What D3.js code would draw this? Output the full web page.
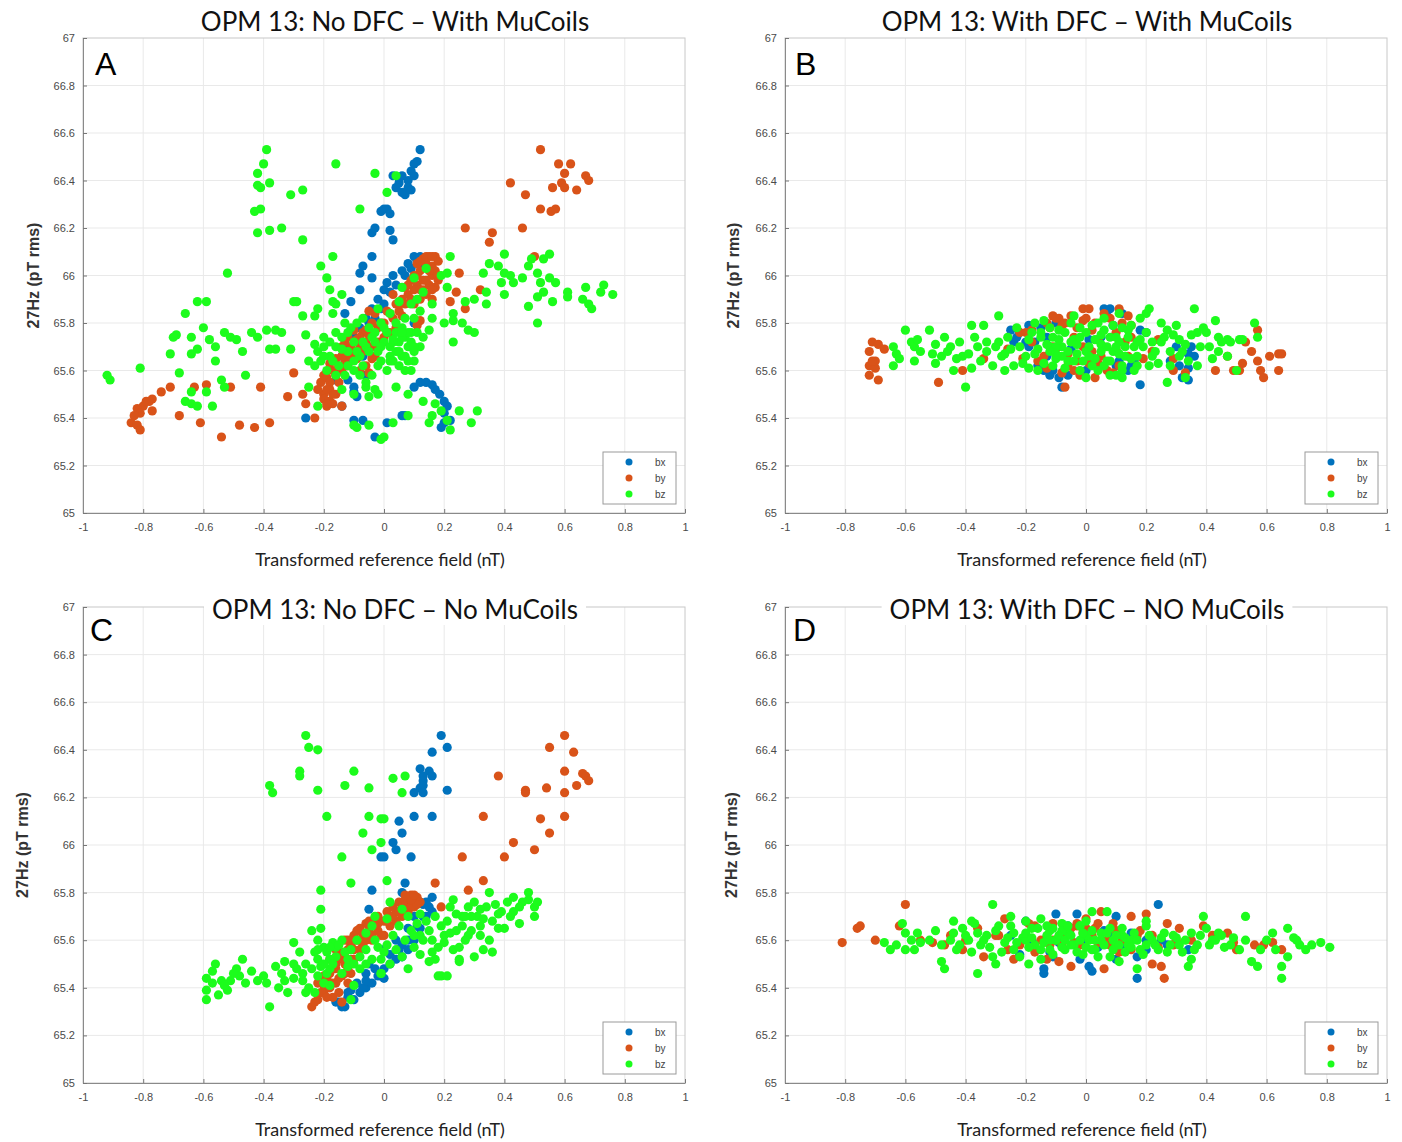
<!DOCTYPE html>
<html>
<head>
<meta charset="utf-8">
<script src="https://cdn.jsdelivr.net/npm/d3@7"></script>
<style>
  body { margin: 0; background: #fff; }
  svg { display: block; }
  .tick text { font-family: "Liberation Sans", Arial, sans-serif; font-size: 11px; fill: #4a4a4a; }
  .tick line { stroke: #777; }
</style>
</head>
<body>
<svg id="chart" width="1402" height="1142"></svg>
<script>
// tick labels, names, texts
var xTicks = [-1, -0.8, -0.6, -0.4, -0.2, 0, 0.2, 0.4, 0.6, 0.8, 1];
var yTicks = [65, 65.2, 65.4, 65.6, 65.8, 66, 66.2, 66.4, 66.6, 66.8, 67];
var seriesNames = ["bx", "by", "bz"];
var panelLetters = ["A", "B", "C", "D"];
var panelTitles = [
  "OPM 13: No DFC \u2013 With MuCoils",
  "OPM 13: With DFC \u2013 With MuCoils",
  "OPM 13: No DFC \u2013 No MuCoils",
  "OPM 13: With DFC \u2013 NO MuCoils"
];
var xLabel = "Transformed reference field (nT)";
var yLabel = "27Hz (pT rms)";

// ---- panel A : no DFC, with MuCoils ----
var aBx = [[0.12,66.53],[0.11,66.48],[0.10,66.47],[0.09,66.44],[0.10,66.42],[0.08,66.40],[0.06,66.42],[0.05,66.39],[0.04,66.37],[0.06,66.35],[0.07,66.34],[0.08,66.37],[0.09,66.36],[0.03,66.42],[0.05,66.41],
  [0.01,66.28],[0.00,66.28],[0.02,66.26],[-0.01,66.27],[-0.04,66.18],[-0.03,66.20],[0.03,66.15],[0.02,66.19],
  [-0.04,66.08],[-0.07,66.04],[-0.08,66.01],[-0.04,65.99],[-0.08,65.94],[-0.11,65.89],[-0.13,65.84],
  [0.10,66.08],[0.08,66.05],[0.06,66.02],[0.03,66.00],[0.01,65.97],[0.00,65.94],[0.00,65.88],[0.11,66.06],[0.12,66.08],[0.13,66.05],
  [-0.02,65.90],[-0.04,65.86],[-0.06,65.82],[-0.08,65.78],[-0.10,65.74],[-0.12,65.70],[-0.14,65.66],[-0.10,65.65],[-0.07,65.66],[0.10,65.80],[-0.05,65.80],
  [0.02,65.93],[0.04,65.96],[0.07,66.00],[0.09,66.03],[-0.01,65.86],[-0.03,65.82],[-0.12,65.63],[-0.15,65.60],[-0.16,65.56],
  [0.12,65.55],[0.14,65.55],[0.16,65.54],[0.17,65.52],[0.185,65.50],[0.20,65.47],[0.21,65.45],[0.20,65.42],[0.20,65.38],[0.19,65.36],[0.22,65.39],[0.10,65.53],[0.07,65.41],[0.06,65.41],[0.01,65.38],
  [-0.07,65.39],[-0.10,65.39],[-0.03,65.32],[-0.26,65.40],[-0.14,65.45],[-0.10,65.51],[-0.09,65.49],[-0.10,65.53],[-0.12,65.56],[-0.06,65.58]];
var aBy = [[-0.19,65.45],[-0.18,65.47],[-0.17,65.46],[-0.20,65.50],[-0.18,65.52],[-0.16,65.50],[-0.21,65.55],[-0.19,65.57],[-0.15,65.55],[-0.17,65.60],[-0.14,65.60],[-0.13,65.63],[-0.16,65.65],[-0.12,65.66],[-0.14,65.70],[-0.11,65.70],[-0.10,65.68],[-0.12,65.74],[-0.09,65.73],[-0.08,65.70],[-0.06,65.72],[-0.10,65.77],[-0.07,65.76],[-0.05,65.75],[-0.04,65.70],[-0.02,65.72],[-0.06,65.62],[-0.05,65.59],[-0.08,65.60],[-0.03,65.66],
  [0.00,65.74],[0.02,65.76],[-0.01,65.80],[0.03,65.82],[0.01,65.85],[-0.03,65.84],[-0.05,65.85],[0.04,65.88],[0.05,65.85],[0.06,65.90],[0.03,65.92],[0.07,65.95],[0.08,65.92],[0.09,65.98],[0.10,66.00],[0.11,65.96],[0.12,66.02],[0.13,65.98],[0.14,66.05],[0.15,66.08],[0.16,66.04],[0.17,66.08],[0.16,66.00],[0.15,65.96],[0.17,65.95],[0.14,65.92],[0.16,65.90],[0.12,65.90],[0.17,66.02],[0.18,66.06],[0.13,66.07],[0.11,66.05],[0.09,65.90],[0.10,65.94],[0.14,65.98],[0.12,65.94],
  [-0.20,65.48],[-0.22,65.52],[-0.18,65.55],[-0.20,65.58],[-0.16,65.58],[-0.15,65.62],[-0.18,65.63],[-0.14,65.66],[-0.12,65.62],[-0.11,65.66],[-0.13,65.72],[-0.08,65.74],[-0.06,65.77],[-0.04,65.80],[-0.02,65.78],[0.00,65.80],[0.02,65.84],[0.05,65.88],[0.07,65.88],[0.08,65.96],[0.11,66.00],[0.12,66.06],[0.15,66.02],[0.16,65.94],[0.18,66.00],[0.13,65.94],[0.10,65.88],[0.06,65.83],[0.04,65.78],[0.01,65.76],[-0.02,65.70],[-0.04,65.65],[-0.07,65.68],[-0.09,65.65],[-0.17,65.50],[-0.19,65.52],[0.18,65.98],[0.14,66.08],[0.16,66.08],
  [-0.19,65.46],[-0.14,65.45],[-0.23,65.40],[-0.30,65.59],[-0.32,65.49],[-0.27,65.50],[-0.26,65.46],[-0.41,65.53],[-0.38,65.38],[-0.43,65.36],[-0.48,65.37],[-0.54,65.32],[-0.61,65.38],[-0.68,65.41],[-0.59,65.54],[-0.63,65.53],[-0.71,65.53],[-0.74,65.51],[-0.51,65.53],
  [-0.77,65.48],[-0.78,65.47],[-0.80,65.45],[-0.82,65.44],[-0.81,65.42],[-0.77,65.43],[-0.84,65.38],[-0.82,65.37],[-0.81,65.35],[-0.79,65.47],[-0.83,65.41],
  [0.52,66.53],[0.58,66.47],[0.62,66.47],[0.60,66.43],[0.67,66.42],[0.68,66.40],[0.59,66.39],[0.60,66.37],[0.64,66.36],[0.56,66.37],[0.42,66.39],[0.47,66.34],[0.52,66.28],[0.555,66.27],[0.57,66.28],
  [0.27,66.20],[0.36,66.18],[0.35,66.14],[0.46,66.20],[0.50,66.08],[0.25,66.01],[0.24,65.93],[0.32,65.94],[0.22,65.89],[0.27,65.86],[0.12,65.81],[0.11,65.79]];
var aBz = [[-0.39,66.53],[-0.40,66.47],[-0.42,66.43],[-0.42,66.38],[-0.41,66.37],[-0.38,66.39],[-0.31,66.34],[-0.27,66.36],[-0.16,66.47],[-0.03,66.43],[-0.43,66.27],[-0.41,66.28],[-0.42,66.18],[-0.38,66.19],[-0.34,66.20],[-0.27,66.15],[-0.08,66.28],[-0.52,66.01],
  [-0.17,66.08],[-0.21,66.04],[-0.19,65.99],[-0.18,65.94],[-0.14,65.92],[-0.17,65.89],[-0.16,65.88],[-0.17,65.84],[-0.22,65.86],[-0.23,65.83],[-0.27,65.83],[-0.30,65.89],[-0.29,65.89],
  [-0.62,65.89],[-0.59,65.89],[-0.66,65.84],[-0.69,65.75],[-0.70,65.74],[-0.64,65.74],[-0.60,65.78],[-0.58,65.73],[-0.62,65.69],[-0.64,65.67],[-0.56,65.70],[-0.56,65.64],[-0.71,65.67],[-0.53,65.76],[-0.51,65.74],[-0.49,65.73],[-0.47,65.68],[-0.44,65.76],[-0.42,65.74],[-0.39,65.77],[-0.36,65.77],[-0.34,65.76],[-0.38,65.69],[-0.36,65.69],[-0.31,65.69],[-0.26,65.75],[-0.23,65.71],[-0.25,65.64],
  [-0.81,65.61],[-0.92,65.58],[-0.91,65.56],[-0.68,65.59],[-0.46,65.58],[-0.54,65.56],[-0.53,65.53],[-0.64,65.51],[-0.59,65.51],[-0.66,65.47],[-0.64,65.46],[-0.62,65.45],[-0.57,65.45],[-0.25,65.53],[-0.22,65.45],
  [-0.10,65.37],[-0.09,65.36],[-0.05,65.37],[-0.01,65.31],[-0.06,65.53],[-0.05,65.49],[-0.02,65.50],
  [-0.18,65.72],[-0.16,65.70],[-0.14,65.74],[-0.12,65.68],[-0.10,65.72],[-0.08,65.66],[-0.06,65.70],[-0.04,65.74],[-0.02,65.68],[-0.17,65.64],[-0.15,65.62],[-0.13,65.58],[-0.19,65.60],[-0.21,65.64],[-0.22,65.68],[-0.20,65.74],[-0.11,65.78],[-0.09,65.80],[-0.07,65.82],[-0.05,65.78],[-0.03,65.76],[-0.01,65.80],[0.00,65.72],[0.02,65.70],[0.04,65.68],[0.06,65.66],[0.05,65.72],[0.07,65.74],[0.08,65.70],[0.03,65.64],[0.01,65.60],[-0.02,65.62],[-0.04,65.58],[-0.06,65.55],[-0.03,65.52],[-0.12,65.62],[-0.10,65.60],[-0.08,65.58],[-0.14,65.52],[-0.10,65.50],[0.09,65.76],[0.06,65.78],[0.04,65.80],[0.10,65.82],[0.12,65.85],[0.09,65.88],[0.05,65.62],[0.07,65.60],[0.10,65.68],
  [-0.20,65.70],[-0.18,65.66],[-0.16,65.76],[-0.14,65.69],[-0.12,65.76],[-0.10,65.64],[-0.09,65.68],[-0.07,65.72],[-0.05,65.68],[-0.03,65.72],[-0.01,65.70],[0.01,65.76],[0.03,65.72],[0.05,65.68],[0.06,65.74],[0.08,65.76],[0.09,65.72],[0.11,65.76],[0.07,65.66],[0.02,65.66],[-0.01,65.64],[-0.07,65.62],[-0.16,65.58],[-0.20,65.66],[-0.23,65.62],[0.00,65.78],[-0.13,65.80],[0.12,65.70],[0.10,65.64],[0.04,65.76],[0.07,65.82],[0.02,65.84],[-0.02,65.86],[0.11,65.90],
  [0.04,66.42],[0.01,66.35],[0.22,66.08],[0.35,66.05],[0.33,66.01],[0.40,66.09],[0.38,66.04],[0.40,66.01],[0.39,65.97],[0.40,65.92],[0.42,66.00],[0.43,65.97],[0.46,65.99],[0.48,66.04],[0.49,66.07],[0.53,66.07],[0.55,66.09],[0.51,66.01],[0.52,65.97],[0.55,65.99],[0.57,65.97],[0.53,65.93],[0.56,65.89],[0.51,65.91],[0.48,65.87],[0.51,65.80],
  [0.61,65.93],[0.61,65.91],[0.66,65.90],[0.67,65.95],[0.69,65.86],[0.68,65.88],[0.72,65.93],[0.73,65.96],[0.76,65.92],[0.34,65.93],[0.34,65.88],[0.30,65.90],[0.27,65.89],[0.21,66.01],[0.21,65.95],[0.19,66.00],[0.14,66.03],[0.10,65.99],
  [0.23,65.84],[0.23,65.81],[0.26,65.80],[0.28,65.77],[0.30,65.76],[0.23,65.72],[0.20,65.80],[0.16,65.82],[0.15,65.77],[0.13,65.74],[0.10,65.70],[0.08,65.64],[0.09,65.60],[0.03,65.73],[0.06,65.76],[0.02,65.64],[0.04,65.53],[0.08,65.50],[0.13,65.47],[0.17,65.46],[0.19,65.43],[0.16,65.41],[0.15,65.38],[0.21,65.39],[0.22,65.35],[0.25,65.43],[0.31,65.43],[0.29,65.38],[0.08,65.41],[0.03,65.38],[0.00,65.32],[0.05,65.89],[0.06,65.95],[0.13,65.93],[0.16,65.88]];

// ---- panel B : with DFC, with MuCoils ----
var bBx = [[-0.25,65.77],[-0.23,65.74],[-0.24,65.72],[-0.19,65.70],[-0.17,65.72],[-0.13,65.74],[-0.13,65.66],[-0.11,65.60],[-0.09,65.57],[-0.08,65.53],[0.06,65.86],[0.08,65.86],[0.09,65.79],[0.05,65.74],[0.18,65.77],[0.18,65.54],[0.15,65.62],[0.31,65.62],[0.34,65.61],[0.34,65.56],[0.32,65.57],[0.34,65.67],[0.35,65.70],[0.01,65.73],[0.11,65.64],[-0.05,65.69],[-0.19,65.79],
  [-0.22,65.76],[-0.20,65.72],[-0.16,65.62],[-0.14,65.60],[-0.12,65.58],[-0.06,65.58],[0.00,65.60],[0.04,65.62],[0.10,65.62],[0.14,65.60],[0.16,65.64],[0.12,65.84],[0.07,65.83],[0.20,65.76],[0.28,65.64],[0.30,65.70],[0.36,65.66],[-0.10,65.80],[-0.15,65.78]];
var bBy = [[-0.71,65.72],[-0.69,65.71],[-0.72,65.68],[-0.67,65.69],[-0.72,65.62],[-0.70,65.61],[-0.72,65.58],[-0.69,65.56],[-0.70,65.64],[-0.71,65.64],[-0.49,65.55],[-0.41,65.60],[-0.34,65.65],[-0.26,65.69],[-0.22,65.76],[-0.21,65.65],[-0.18,65.77],[-0.13,65.80],[-0.11,65.83],[-0.09,65.82],[-0.07,65.80],[-0.01,65.86],[0.01,65.86],[-0.01,65.81],[0.03,65.80],[0.06,65.84],[0.11,65.86],[0.14,65.83],[0.15,65.79],[0.15,65.74],[0.10,65.69],[0.05,65.66],[0.01,65.63],[-0.03,65.64],[-0.06,65.67],[-0.11,65.70],[-0.14,65.66],[-0.13,65.61],[-0.08,65.59],[-0.04,65.60],[0.03,65.57],[0.09,65.59],[-0.07,65.53],[-0.01,65.70],[0.04,65.73],[-0.04,65.74],
  [-0.12,65.78],[-0.10,65.82],[-0.08,65.79],[-0.05,65.83],[-0.03,65.78],[0.00,65.82],[0.02,65.77],[0.08,65.82],[0.12,65.80],[0.13,65.72],[0.11,65.62],[0.07,65.60],[-0.02,65.58],[-0.06,65.62],[-0.16,65.64],[-0.18,65.72],[-0.20,65.76],[0.04,65.63],[0.14,65.66],[-0.09,65.70],[0.02,65.68],[0.10,65.76],
  [0.24,65.73],[0.29,65.60],[0.33,65.59],[0.43,65.60],[0.47,65.66],[0.49,65.60],[0.52,65.63],[0.53,65.72],[0.55,65.68],[0.57,65.77],[0.57,65.64],[0.58,65.60],[0.59,65.57],[0.61,65.66],[0.64,65.67],[0.65,65.67],[0.64,65.60],[0.51,65.60],[0.29,65.65],[0.22,65.68],[0.19,65.65]];
var bBz = [[-0.64,65.70],[-0.63,65.67],[-0.64,65.62],[-0.60,65.77],[-0.58,65.72],[-0.57,65.70],[-0.56,65.73],[-0.57,65.64],[-0.52,65.77],[-0.51,65.67],[-0.50,65.71],[-0.48,65.66],[-0.47,65.74],[-0.45,65.70],[-0.44,65.60],[-0.42,65.72],[-0.41,65.66],[-0.38,65.79],[-0.37,65.74],[-0.36,65.70],[-0.38,65.61],[-0.35,65.64],[-0.34,65.79],[-0.33,65.72],[-0.31,65.62],[-0.29,65.83],[-0.29,65.72],[-0.27,65.67],[-0.40,65.53],[-0.24,65.62],[-0.21,65.63],
  [-0.19,65.73],[-0.17,65.67],[-0.16,65.60],[-0.15,65.76],[-0.14,65.81],[-0.12,65.70],[-0.11,65.74],[-0.10,65.65],[-0.09,65.77],[-0.08,65.70],[-0.06,65.64],[-0.05,65.80],[-0.04,65.73],[-0.03,65.67],[-0.02,65.60],[0.00,65.76],[0.01,65.70],[0.03,65.65],[0.04,65.80],[0.05,65.71],[0.06,65.62],[0.08,65.74],[0.09,65.68],[0.10,65.58],[0.11,65.84],[0.11,65.72],[0.13,65.66],[0.14,65.77],[0.16,65.70],[0.17,65.62],[0.18,65.73],[0.20,65.84],[0.21,65.86],[0.22,65.66],[0.24,65.63],[0.25,65.80],[0.25,65.72],[0.27,65.77],[0.27,65.55],[0.28,65.68],[0.30,65.79],[0.31,65.73],[0.32,65.68],[0.33,65.57],[0.34,65.64],[0.36,65.86],[0.37,65.76],[0.39,65.78],[0.41,65.70],[0.43,65.81],[0.44,65.74],[0.44,65.68],[0.47,65.73],[0.48,65.72],[0.51,65.73],[0.52,65.73],[0.50,65.60],[0.56,65.80],[0.57,65.74],[0.37,65.62],
  [-0.10,65.70],[-0.05,65.72],[0.00,65.68],[0.05,65.75],[0.10,65.70],[-0.08,65.66],[0.02,65.62],[0.07,65.64],[0.12,65.60],[-0.02,65.78],[0.06,65.82],[0.12,65.78],[-0.12,65.68],[0.15,65.65],[0.17,65.72],[-0.15,65.74],
  [-0.28,65.66],[-0.26,65.74],[-0.25,65.69],[-0.23,65.78],[-0.22,65.70],[-0.20,65.66],[-0.19,65.61],[-0.18,65.76],[-0.17,65.80],[-0.16,65.69],[-0.14,65.63],[-0.13,65.71],[-0.12,65.78],[-0.11,65.62],[-0.10,65.67],[-0.09,65.73],[-0.07,65.76],[-0.07,65.61],[-0.06,65.68],[-0.04,65.64],[-0.03,65.71],[-0.02,65.74],[-0.01,65.64],[0.01,65.66],[0.02,65.79],[0.03,65.73],[0.04,65.60],[0.05,65.68],[0.06,65.77],[0.07,65.70],[0.08,65.64],[0.09,65.79],[0.10,65.74],[0.11,65.67],[0.12,65.62],[0.13,65.70],[0.14,65.74],[0.15,65.79],[0.16,65.60],[0.17,65.66],[0.19,65.70],[0.20,65.76],[0.21,65.62],[0.22,65.72],[0.23,65.68],[0.26,65.74],[0.28,65.62],[0.29,65.75],[0.31,65.66],[0.33,65.71],[0.35,65.75],[0.38,65.70],[0.40,65.76],[0.42,65.65],[0.45,65.72],[0.47,65.66],
  [-0.55,65.68],[-0.50,65.63],[-0.46,65.68],[-0.43,65.65],[-0.39,65.67],[-0.33,65.68],[-0.30,65.70],[-0.62,65.65],[-0.27,65.60],[0.00,65.57],[0.12,65.57],[-0.04,65.83],[0.18,65.82],[0.08,65.58]];

// ---- panel C : no DFC, no MuCoils ----
var cBx = [[0.19,66.46],[0.21,66.41],[0.16,66.39],[0.12,66.32],[0.15,66.31],[0.13,66.29],[0.16,66.29],[0.13,66.27],[0.13,66.25],[0.12,66.24],[0.10,66.22],[0.13,66.22],[0.21,66.23],[0.16,66.12],[0.10,66.12],[0.05,66.10],[0.06,66.05],[0.03,66.01],[0.04,65.98],[0.09,65.95],[0.00,65.95],[-0.01,65.95],[0.07,65.84],[0.06,65.80],[0.12,65.76],[-0.04,65.81],[-0.05,65.73],
  [-0.15,65.34],[-0.14,65.32],[-0.12,65.36],[-0.10,65.35],[-0.08,65.38],[-0.06,65.40],[-0.04,65.42],[-0.02,65.45],[0.00,65.48],[0.02,65.50],[0.04,65.52],[0.06,65.53],[0.08,65.56],[0.06,65.58],[0.10,65.60],[0.12,65.65],[0.14,65.70],[0.16,65.72],[-0.05,65.50],[-0.09,65.42],[0.00,65.56],[0.04,65.60],[0.08,65.65],[0.10,65.70],[0.13,65.75],[0.15,65.74],[0.00,65.44],[-0.11,65.39],[-0.13,65.32],[-0.16,65.34],[-0.07,65.40],[-0.01,65.45],[-0.06,65.43],
  [0.02,65.54],[0.05,65.56],[0.08,65.60],[0.11,65.66],[0.13,65.70],[-0.03,65.48],[-0.06,65.46],[-0.12,65.38],[0.14,65.76],[0.16,65.78]];
var cBy = [[-0.24,65.32],[-0.22,65.35],[-0.20,65.38],[-0.18,65.40],[-0.17,65.36],[-0.16,65.42],[-0.15,65.38],[-0.14,65.45],[-0.16,65.48],[-0.15,65.52],[-0.13,65.50],[-0.14,65.55],[-0.12,65.56],[-0.13,65.60],[-0.11,65.58],[-0.10,65.62],[-0.09,65.60],[-0.08,65.65],[-0.07,65.62],[-0.06,65.67],[-0.05,65.64],[-0.04,65.68],[-0.03,65.66],[-0.02,65.70],[0.00,65.68],[0.01,65.72],[0.02,65.70],[0.03,65.74],[0.04,65.72],[0.05,65.76],[0.06,65.74],[0.07,65.77],[0.08,65.76],[0.09,65.79],[0.10,65.77],[0.11,65.78],[0.12,65.76],[0.10,65.74],[0.08,65.72],[0.06,65.70],
  [-0.19,65.44],[-0.17,65.48],[-0.16,65.56],[-0.12,65.48],[-0.10,65.52],[-0.08,65.56],[-0.06,65.60],[-0.04,65.62],[-0.02,65.64],[0.00,65.62],[0.02,65.66],[0.04,65.68],[-0.18,65.52],[-0.20,65.45],[-0.22,65.42],[-0.14,65.34],[-0.12,65.42],[-0.11,65.46],
  [-0.21,65.38],[-0.19,65.36],[-0.17,65.42],[-0.15,65.44],[-0.13,65.46],[-0.13,65.53],[-0.11,65.52],[-0.12,65.60],[-0.10,65.56],[-0.09,65.64],[-0.07,65.58],[-0.05,65.68],[-0.04,65.60],[-0.02,65.67],[-0.01,65.62],[0.01,65.68],[0.03,65.70],[0.05,65.72],[0.07,65.74],[0.09,65.74],[0.11,65.75],[0.09,65.77],[0.07,65.79],[0.10,65.79],[-0.18,65.46],[-0.16,65.50],[-0.20,65.41],[-0.23,65.34],
  [0.60,66.46],[0.55,66.41],[0.63,66.39],[0.60,66.31],[0.38,66.29],[0.47,66.23],[0.47,66.22],[0.54,66.24],[0.64,66.25],[0.66,66.30],[0.67,66.29],[0.68,66.27],[0.60,66.22],[0.33,66.12],[0.52,66.11],[0.55,66.05],[0.60,66.12],[0.43,66.01],[0.40,65.95],[0.50,65.98],[0.26,65.95],[0.33,65.85],[0.17,65.84],[0.28,65.81],[0.19,65.74]];
var cBz = [[-0.26,66.46],[-0.25,66.41],[-0.22,66.40],[-0.28,66.31],[-0.28,66.29],[-0.38,66.25],[-0.37,66.22],[-0.22,66.23],[-0.13,66.25],[-0.10,66.31],[-0.05,66.24],[-0.19,66.12],[-0.05,66.12],[-0.07,66.05],[-0.01,66.11],[-0.01,66.01],[-0.04,65.98],[-0.14,65.95],[-0.11,65.84],[-0.21,65.81],[-0.21,65.73],[0.03,66.28],[0.07,66.29],[0.06,66.22],[0.00,66.11],[0.01,65.85],
  [-0.30,65.59],[-0.24,65.64],[-0.21,65.65],[-0.47,65.52],[-0.56,65.50],[-0.57,65.47],[-0.59,65.44],[-0.59,65.39],[-0.59,65.35],[-0.55,65.37],[-0.54,65.43],[-0.51,65.43],[-0.49,65.48],[-0.48,65.45],[-0.52,65.39],[-0.42,65.43],[-0.40,65.45],[-0.39,65.42],[-0.38,65.32],[-0.36,65.49],[-0.33,65.51],[-0.35,65.40],[-0.32,65.38],[-0.33,65.43],[-0.30,65.50],[-0.28,65.55],[-0.29,65.48],[-0.27,65.46],[-0.27,65.43],[-0.25,65.40],[-0.23,65.38],
  [-0.22,65.52],[-0.20,65.57],[-0.19,65.55],[-0.17,65.59],[-0.16,65.53],[-0.21,65.49],[-0.19,65.46],[-0.18,65.48],[-0.22,65.45],[-0.14,65.46],[-0.12,65.49],[-0.11,65.56],[-0.09,65.60],[-0.08,65.53],[-0.06,65.63],[-0.04,65.66],[-0.03,65.70],[-0.06,65.50],[-0.10,65.41],[-0.11,65.35],[-0.02,65.57],[-0.01,65.52],[-0.01,65.46],[-0.18,65.52],[-0.16,65.57],[-0.14,65.60],[-0.18,65.41],[-0.20,65.42],[-0.26,65.38],[-0.22,65.60],[-0.23,65.55],
  [-0.24,65.48],[-0.22,65.56],[-0.20,65.50],[-0.18,65.57],[-0.17,65.50],[-0.15,65.58],[-0.13,65.55],[-0.12,65.52],[-0.10,65.50],[-0.08,65.48],[-0.06,65.56],[-0.04,65.52],[-0.03,65.60],[0.00,65.55],[0.01,65.58],[0.03,65.62],[0.04,65.56],[0.07,65.60],[0.09,65.64],[0.12,65.62],[0.14,65.68],[0.16,65.60],[0.20,65.62],[0.21,65.68],[0.24,65.64],[0.26,65.70],[0.28,65.62],[0.31,65.70],[0.34,65.74],[0.36,65.68],[0.39,65.72],[0.43,65.72],[0.46,65.76],[0.35,65.60],[0.23,65.56],[0.17,65.52],[0.12,65.54],[-0.26,65.50],[-0.30,65.44],[-0.34,65.46],[-0.44,65.47],[-0.50,65.46],[-0.57,65.42],[-0.53,65.41],[-0.46,65.42],
  [0.02,65.76],[0.06,65.73],[0.01,65.69],[0.05,65.66],[0.08,65.70],[0.11,65.67],[0.12,65.71],[0.10,65.62],[0.13,65.60],[0.15,65.64],[0.17,65.70],[0.19,65.66],[0.18,65.57],[0.16,65.55],[0.20,65.59],[0.22,65.74],[0.23,65.77],[0.24,65.71],[0.26,65.66],[0.22,65.63],[0.25,65.57],[0.27,65.60],[0.29,65.70],[0.30,65.76],[0.32,65.73],[0.32,65.66],[0.33,65.69],[0.35,65.80],[0.37,65.75],[0.38,65.71],[0.40,65.65],[0.41,65.76],[0.43,65.78],[0.45,65.74],[0.45,65.67],[0.48,65.80],[0.48,65.77],[0.50,65.74],[0.50,65.70],[0.51,65.76],
  [0.32,65.62],[0.33,65.56],[0.36,65.55],[0.30,65.53],[0.25,65.51],[0.25,65.52],[0.19,65.45],[0.21,65.45],[0.18,65.45],[0.08,65.48],[0.15,65.51],[0.10,65.57],[0.06,65.53],[0.02,65.50],[-0.01,65.46],[0.28,65.74],[0.27,65.70],[0.38,65.65],[0.42,65.70],[0.29,65.64]];

// ---- panel D : with DFC, no MuCoils ----
var dBx = [[-0.03,65.71],[-0.10,65.71],[-0.20,65.68],[0.10,65.70],[0.24,65.75],[-0.14,65.48],[-0.14,65.46],[0.01,65.49],[0.02,65.47],[0.17,65.44],[0.34,65.56],[0.20,65.60],[-0.22,65.54],[-0.11,65.53],[0.17,65.53],[0.06,65.64],[-0.09,65.59],[0.27,65.58],
  [-0.18,65.60],[-0.12,65.55],[-0.06,65.66],[0.00,65.60],[0.04,65.57],[0.08,65.62],[0.12,65.58],[0.15,65.63],[0.20,65.56],[-0.25,65.62],[0.25,65.60],[-0.02,65.52],[0.10,65.52]];
var dBy = [[-0.81,65.59],[-0.76,65.65],[-0.75,65.66],[-0.60,65.75],[-0.70,65.60],[-0.62,65.66],[-0.51,65.59],[-0.47,65.58],[-0.41,65.56],[-0.36,65.65],[-0.34,65.53],[-0.29,65.62],[-0.27,65.69],[-0.24,65.52],[-0.22,65.58],[-0.19,65.67],[-0.17,65.66],[-0.13,65.52],[-0.11,65.60],[-0.09,65.51],[-0.05,65.49],[-0.03,65.66],[0.00,65.69],[-0.01,65.63],[0.03,65.65],[0.05,65.72],[0.06,65.48],[0.09,65.67],[0.11,65.55],[0.15,65.70],[0.20,65.71],[0.22,65.50],[0.25,65.49],[0.26,65.44],[0.27,65.67],[0.29,65.58],[0.31,65.65],[0.39,65.66],[0.47,65.63],[0.50,65.56],[0.56,65.58],[0.59,65.58],[0.62,65.59],[0.65,65.56],[0.49,65.59],[-0.08,65.58],[-0.04,65.59],[0.04,65.59],[0.08,65.58],[0.17,65.62],[-0.17,65.55],[-0.11,65.67],[-0.03,65.67],
  [-0.30,65.62],[-0.26,65.56],[-0.20,65.62],[-0.15,65.60],[-0.12,65.58],[-0.08,65.62],[-0.05,65.65],[-0.02,65.58],[0.00,65.65],[0.02,65.62],[0.04,65.67],[0.07,65.60],[0.10,65.64],[0.12,65.60],[0.15,65.56],[0.18,65.64],[0.22,65.62],[0.24,65.57],[0.30,65.60],[0.35,65.60],[0.42,65.62],[-0.40,65.60],[-0.45,65.62],[-0.55,65.60]];
var dBz = [[-0.67,65.59],[-0.65,65.56],[-0.61,65.67],[-0.60,65.63],[-0.60,65.56],[-0.56,65.63],[-0.57,65.56],[-0.55,65.59],[-0.50,65.64],[-0.48,65.51],[-0.47,65.48],[-0.44,65.68],[-0.44,65.63],[-0.42,65.58],[-0.41,65.65],[-0.39,65.60],[-0.37,65.67],[-0.36,65.46],[-0.35,65.58],[-0.33,65.62],[-0.31,65.53],[-0.31,65.75],[-0.29,65.66],[-0.27,65.59],[-0.25,65.70],[-0.24,65.63],[-0.24,65.56],[-0.21,65.61],[-0.19,65.50],[-0.18,65.65],[-0.17,65.58],[-0.15,65.69],[-0.13,65.62],[-0.12,65.56],[-0.11,65.65],[-0.10,65.60],[-0.08,65.67],[-0.07,65.56],[-0.06,65.63],[-0.04,65.58],[-0.02,65.66],[-0.01,65.54],[0.01,65.60],[0.02,65.72],[0.03,65.56],[0.05,65.63],[0.07,65.72],[0.08,65.53],[0.09,65.60],[0.11,65.51],[0.12,65.65],[0.14,65.58],[0.16,65.63],[0.17,65.48],[0.18,65.56],[0.20,65.66],[0.22,65.60],[0.24,65.56],[0.26,65.63],[0.28,65.58],[0.30,65.61],[0.32,65.55],[0.34,65.49],[0.35,65.63],[0.37,65.58],[0.39,65.70],[0.40,65.65],[0.42,65.60],[0.44,65.63],[0.46,65.57],[0.49,65.61],[0.51,65.56],[0.53,65.70],[0.55,65.51],[0.57,65.49],[0.58,65.56],[0.62,65.63],[0.63,65.56],[0.65,65.49],[0.65,65.44],[0.67,65.65],[0.67,65.53],[0.69,65.61],[0.71,65.58],[0.73,65.56],[0.75,65.58],[0.78,65.59],[0.81,65.57],
  [-0.10,65.60],[-0.05,65.58],[0.00,65.62],[0.05,65.60],[0.10,65.58],[-0.15,65.56],[0.15,65.60],[-0.20,65.60],[0.20,65.58],[-0.08,65.64],[0.02,65.56],[0.12,65.62],[-0.12,65.64],[-0.02,65.66],[0.08,65.65],
  [-0.45,65.60],[-0.43,65.56],[-0.40,65.62],[-0.38,65.55],[-0.36,65.63],[-0.34,65.60],[-0.32,65.57],[-0.30,65.64],[-0.28,65.55],[-0.26,65.61],[-0.25,65.66],[-0.23,65.59],[-0.22,65.53],[-0.20,65.63],[-0.19,65.57],[-0.18,65.61],[-0.16,65.65],[-0.15,65.52],[-0.14,65.59],[-0.13,65.66],[-0.12,65.60],[-0.11,65.54],[-0.09,65.62],[-0.08,65.57],[-0.07,65.60],[-0.06,65.66],[-0.05,65.62],[-0.03,65.55],[-0.02,65.60],[-0.01,65.63],[0.00,65.57],[0.02,65.64],[0.03,65.60],[0.04,65.53],[0.06,65.58],[0.07,65.63],[0.09,65.56],[0.10,65.62],[0.11,65.58],[0.13,65.55],[0.13,65.61],[0.15,65.57],[0.17,65.60],[0.19,65.54],[0.21,65.62],[0.23,65.58],[0.25,65.61],[0.27,65.55],[0.29,65.62],[0.31,65.58],[0.33,65.60],[0.36,65.56],[0.38,65.62],[0.41,65.58],[0.43,65.60],[0.45,65.62],[0.48,65.58],
  [-0.52,65.60],[-0.48,65.58],[-0.58,65.60],[-0.63,65.58],[0.53,65.60],[0.60,65.60],[0.70,65.60],[-0.30,65.50],[0.00,65.68],[0.20,65.68],[-0.20,65.68],[0.35,65.52],[-0.38,65.68]];

var panelSeries = [[aBx, aBy, aBz], [bBx, bBy, bBz], [cBx, cBy, cBz], [dBx, dBy, dBz]];

// ---- layout ----
var colors = ["#0072bd", "#d95319", "#1cfc1c"];
var plotW = 602;
var layout = [
  {left: 83,  top: 38,  bottom: 513,  ylabX: 33,  titleX: 395,  titleY: 31,  letterX: 95,  letterY: 75},
  {left: 785, top: 38,  bottom: 513,  ylabX: 733, titleX: 1087, titleY: 31,  letterX: 795, letterY: 75},
  {left: 83,  top: 607, bottom: 1083, ylabX: 22,  titleX: 395,  titleY: 619, letterX: 90,  letterY: 641},
  {left: 785, top: 607, bottom: 1083, ylabX: 731, titleX: 1087, titleY: 619, letterX: 793, letterY: 641}
];

var svg = d3.select("#chart");

layout.forEach(function(L, i) {
  var h = L.bottom - L.top;
  var x = d3.scaleLinear().domain([-1, 1]).range([0, plotW]);
  var y = d3.scaleLinear().domain([65, 67]).range([h, 0]);

  var g = svg.append("g").attr("transform", "translate(" + L.left + "," + L.top + ")");

  // grid
  g.append("g").selectAll("line").data(xTicks.slice(1, -1)).enter().append("line")
    .attr("x1", function(d) { return x(d); }).attr("x2", function(d) { return x(d); })
    .attr("y1", 0).attr("y2", h)
    .attr("stroke", "#e9e9e9").attr("stroke-width", 1);
  g.append("g").selectAll("line").data(yTicks.slice(1, -1)).enter().append("line")
    .attr("y1", function(d) { return y(d); }).attr("y2", function(d) { return y(d); })
    .attr("x1", 0).attr("x2", plotW)
    .attr("stroke", "#e9e9e9").attr("stroke-width", 1);

  // box
  g.append("rect").attr("width", plotW).attr("height", h)
    .attr("fill", "none").attr("stroke", "#c8c8c8");

  // axes
  var xAxis = d3.axisBottom(x).tickValues(xTicks).tickFormat(function(d) { return String(d); })
    .tickSizeInner(-4).tickSizeOuter(0).tickPadding(10);
  var yAxis = d3.axisLeft(y).tickValues(yTicks).tickFormat(function(d) { return String(d); })
    .tickSizeInner(-4).tickSizeOuter(0).tickPadding(8);

  g.append("g").attr("transform", "translate(0," + h + ")").call(xAxis)
    .call(function(s) { s.select(".domain").attr("stroke", "#8a8a8a"); });
  g.append("g").call(yAxis)
    .call(function(s) { s.select(".domain").attr("stroke", "#8a8a8a"); });

  // points: bx, then by, then bz on top
  panelSeries[i].forEach(function(pts, k) {
    g.append("g").selectAll("circle").data(pts).enter().append("circle")
      .attr("cx", function(d) { return x(d[0]); })
      .attr("cy", function(d) { return y(d[1]); })
      .attr("r", 4.6)
      .attr("fill", colors[k]);
  });

  // legend
  var lg = g.append("g").attr("transform", "translate(" + (plotW - 82) + "," + (h - 61) + ")");
  lg.append("rect").attr("width", 73).attr("height", 52)
    .attr("fill", "#fff").attr("stroke", "#9a9a9a");
  seriesNames.forEach(function(name, k) {
    lg.append("circle").attr("cx", 26).attr("cy", 10 + 16 * k).attr("r", 3.5).attr("fill", colors[k]);
    lg.append("text").attr("x", 52).attr("y", 10 + 16 * k).attr("dy", "0.35em")
      .style("font-family", "'Liberation Sans', Arial, sans-serif").style("font-size", "10px")
      .attr("fill", "#444").text(name);
  });

  // axis labels
  svg.append("text")
    .attr("transform", "translate(" + L.ylabX + "," + (L.top + h / 2) + ") rotate(-90)")
    .attr("text-anchor", "middle").attr("dy", "0.35em")
    .style("font-family", "'Liberation Sans', Arial, sans-serif").style("font-size", "16px")
    .style("font-weight", "bold").attr("fill", "#333").text(yLabel);

  svg.append("text")
    .attr("x", L.left + plotW / 2 - 4).attr("y", L.bottom + 53)
    .attr("text-anchor", "middle")
    .style("font-family", "Lato, 'Open Sans', sans-serif").style("font-size", "18px")
    .attr("fill", "#222").text(xLabel);

  // title with white backing
  var tg = svg.append("g");
  var tt = tg.append("text")
    .attr("x", L.titleX).attr("y", L.titleY)
    .attr("text-anchor", "middle")
    .style("font-family", "Lato, 'Open Sans', sans-serif").style("font-size", "26px")
    .attr("fill", "#111").text(panelTitles[i]);
  var bb = tt.node().getBBox();
  tg.insert("rect", "text").attr("x", bb.x - 8).attr("y", bb.y).attr("width", bb.width + 16)
    .attr("height", bb.height).attr("fill", "#fff");

  // panel letter
  svg.append("text").attr("x", L.letterX).attr("y", L.letterY)
    .style("font-family", "'Liberation Sans', Arial, sans-serif").style("font-size", "32px")
    .attr("fill", "#000").text(panelLetters[i]);
});
</script>
</body>
</html>
